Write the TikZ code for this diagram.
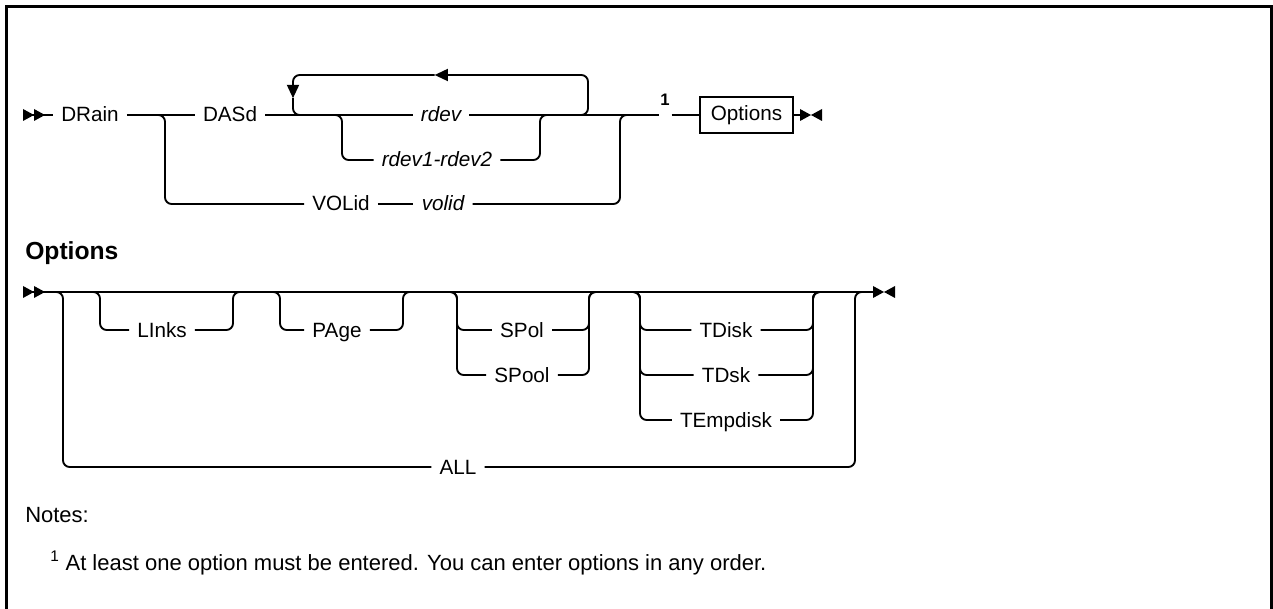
\documentclass[tikz,border=0pt]{standalone}
\usepackage{fontspec}
\setmainfont{Liberation Sans}
\usetikzlibrary{positioning, arrows.meta, calc}

\begin{document}
\begin{tikzpicture}[
  x=0.75pt, y=-0.75pt,
  rail/.style={line width=1.4pt, rounded corners=5pt},
  kw/.style={
    inner xsep=6pt, inner ysep=0pt, text height=11.5pt, text depth=1pt,
    font=\fontsize{15.5}{18}\selectfont
  },
  var/.style={kw, font=\fontsize{15.5}{18}\selectfont\itshape},
  optbox/.style={
    draw, line width=1.2pt, inner xsep=2pt, inner ysep=0pt,
    minimum width=70pt, minimum height=27pt,
    font=\fontsize{15.5}{18}\selectfont
  },
  notemark/.style={inner sep=1.2pt, font=\fontsize{12.5}{14}\selectfont\bfseries},
  heading/.style={font=\fontsize{18.5}{22}\selectfont\bfseries, inner sep=0pt},
  notetext/.style={font=\fontsize{16.5}{20}\selectfont, inner sep=0pt},
  frame/.style={line width=2pt},
  looptip/.style={-{Triangle[length=10pt, width=9pt]}},
  startmark/.pic={
    \fill (0,-6) -- (11,0) -- (0,6) -- cycle;
    \fill (11,-6) -- (22,0) -- (11,6) -- cycle;
  },
  endmark/.pic={
    \fill (0,-6) -- (11,0) -- (0,6) -- cycle;
    \fill (22,-6) -- (11,0) -- (22,6) -- cycle;
  },
]
\useasboundingbox (0,0) rectangle (1273,609);

%% ── Frame (open at the bottom) ──────────────────────────────────────────────
\draw[frame] (6.5,609) -- (6.5,6.5) -- (1271.5,6.5) -- (1271.5,609);

%% ── Main syntax line ────────────────────────────────────────────────────────
\coordinate (topstart) at (23,115);
\coordinate (topend)   at (800,115);

\node[kw]  (drain) at (90,115)  {DRain};
\node[kw]  (dasd)  at (230,115) {DASd};
\node[var] (rdev)  at (441,115) {rdev};
\node[var] (rdevr) at (437,160) {rdev1-rdev2};
\node[kw]  (volkw) at (341,204) {VOLid};
\node[var] (volid) at (443,204) {volid};
\node[notemark] (one) at (665,100) {1};
\node[optbox] (opts) at (746.5,115) {Options};

% junctions on the main line
\coordinate (jvol)  at (165,115);
\coordinate (jrng)  at (342,115);
\coordinate (jrng2) at (540,115);
\coordinate (jvol2) at (620,115);
\coordinate (lpL)   at (293,75);
\coordinate (lpR)   at (588,75);
\coordinate (lpbL)  at (293,115);
\coordinate (lpbR)  at (588,115);

\pic at (topstart) {startmark};
\draw[rail] (topstart) -- (drain.west);
\draw[rail] (drain.east) -- (dasd.west);
\draw[rail] (dasd.east) -- (rdev.west);
\draw[rail] (rdev.east) -- (rdev.east -| one.west);
\draw[rail] (one.east |- opts.west) -- (opts.west);
\draw[rail] (opts.east) -- (topend);
\pic at (topend) {endmark};

% VOLid branch
\draw[rail] ([xshift=-7pt]jvol) -- (jvol) |- (volkw.west);
\draw[rail] (volkw.east) -- (volid.west);
\draw[rail] (volid.east) -| (jvol2) -- ([xshift=7pt]jvol2);

% range branch
\draw[rail] ([xshift=-7pt]jrng) -- (jrng) |- (rdevr.west);
\draw[rail] (rdevr.east) -| (jrng2) -- ([xshift=7pt]jrng2);

% repeat loop
\draw[rail, looptip] ([xshift=-9pt]lpbR) -- (lpbR) -- (lpR) -- ($(lpL)!0.48!(lpR)$);
\draw[rail, looptip] ($(lpL)!0.48!(lpR)$) -- (lpL) -- ($(lpL)!0.58!(lpbL)$);
\draw[rail] ($(lpL)!0.58!(lpbL)$) -- (lpbL) -- ([xshift=9pt]lpbL);

%% ── Options fragment ────────────────────────────────────────────────────────
\node[heading, anchor=base west] (opthead) at (25,260) {Options};

\coordinate (ostart) at (23,292);
\coordinate (oend)   at (873,292);

\node[kw] (links)    at (162,330) {LInks};
\node[kw] (page)     at (337,330) {PAge};
\node[kw] (spol)     at (522,330) {SPol};
\node[kw] (spool)    at (522,375) {SPool};
\node[kw] (tdisk)    at (726,330) {TDisk};
\node[kw] (tdsk)     at (726,375) {TDsk};
\node[kw] (tempdisk) at (726,420) {TEmpdisk};
\node[kw] (all)      at (458,467) {ALL};

\coordinate (a1) at (63,292);  \coordinate (a2) at (855,292);
\coordinate (l1) at (100,292); \coordinate (l2) at (233,292);
\coordinate (p1) at (280,292); \coordinate (p2) at (403,292);
\coordinate (s1) at (457,292); \coordinate (s2) at (589,292);
\coordinate (t1) at (640,292); \coordinate (t2) at (813,292);

\pic at (ostart) {startmark};
\draw[rail] (ostart) -- (oend);
\pic at (oend) {endmark};

\foreach \n/\u/\v in {all/a1/a2, links/l1/l2, page/p1/p2,
                      spol/s1/s2, spool/s1/s2,
                      tdisk/t1/t2, tdsk/t1/t2, tempdisk/t1/t2} {
  \draw[rail] ([xshift=-7pt]\u) -- (\u) |- (\n.west);
  \draw[rail] (\n.east) -| (\v) -- ([xshift=7pt]\v);
}

%% ── Notes ───────────────────────────────────────────────────────────────────
\node[notetext, anchor=base west] (notes) at (25,522) {Notes:};
\node[notetext, anchor=base west] (note1) at (50,570)
  {\textsuperscript{1} At least one option must be entered. You can enter options in any order.};

\end{tikzpicture}
\end{document}
